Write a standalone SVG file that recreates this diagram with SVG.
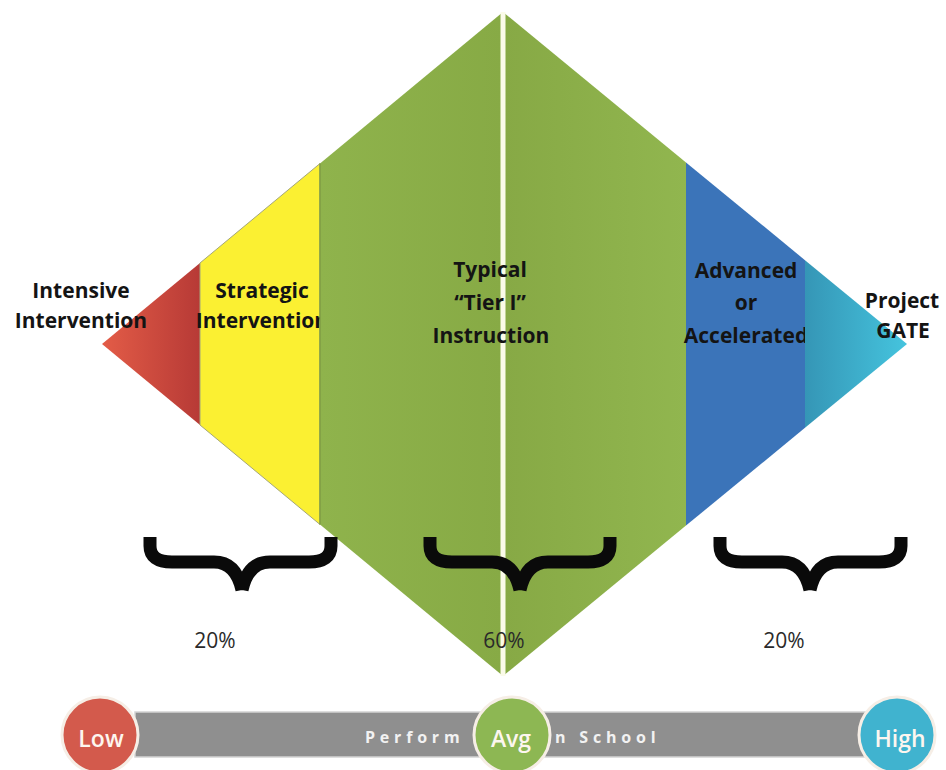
<svg xmlns="http://www.w3.org/2000/svg" width="946" height="770" viewBox="0 0 946 770">
  <style>
    .lbl { font-family: "Open Sans", "Liberation Sans", sans-serif; font-weight: 700; font-size: 21px; fill: #141414; text-anchor: middle; }
    .pct { font-family: "Open Sans", "Liberation Sans", sans-serif; font-weight: 400; font-size: 21px; fill: #2a2a2a; text-anchor: middle; }
    .dot { font-family: "Open Sans", "Liberation Sans", sans-serif; font-weight: 600; font-size: 23px; fill: #fdf6ef; text-anchor: middle; }
    .bar { font-family: "Open Sans", "Liberation Sans", sans-serif; font-weight: 700; font-size: 16px; fill: #f2f2f2; letter-spacing: 4.8px; }
    .brace { fill: none; stroke: #0a0a0a; stroke-width: 13; stroke-linejoin: round; }
    .ring { stroke: #f6eee6; stroke-width: 3; }
  </style>
  <defs>
    <linearGradient id="gRed" x1="102" y1="0" x2="200" y2="0" gradientUnits="userSpaceOnUse">
      <stop offset="0" stop-color="#e35c47"/>
      <stop offset="1" stop-color="#b73a36"/>
    </linearGradient>
    <linearGradient id="gCyan" x1="805" y1="0" x2="907" y2="0" gradientUnits="userSpaceOnUse">
      <stop offset="0" stop-color="#3596b6"/>
      <stop offset="1" stop-color="#45c4de"/>
    </linearGradient>
    <linearGradient id="gGreenL" x1="320" y1="0" x2="503" y2="0" gradientUnits="userSpaceOnUse">
      <stop offset="0" stop-color="#8fb34c"/>
      <stop offset="1" stop-color="#87aa45"/>
    </linearGradient>
    <linearGradient id="gGreenR" x1="503" y1="0" x2="686" y2="0" gradientUnits="userSpaceOnUse">
      <stop offset="0" stop-color="#87a945"/>
      <stop offset="1" stop-color="#91b64f"/>
    </linearGradient>
  </defs>

  <rect width="946" height="770" fill="#ffffff"/>

  <!-- diamond bands, left to right -->
  <g id="intensive">
    <polygon points="102,344 200,263 200,425" fill="url(#gRed)"/>
    <text class="lbl" x="81" y="298">Intensive</text>
    <text class="lbl" x="81" y="328">Intervention</text>
  </g>
  <g id="strategic">
    <polygon points="200,263 320,163.5 320,524.5 200,425" fill="#fbf032" stroke="#a4a67a" stroke-width="1"/>
    <text class="lbl" x="262" y="298">Strategic</text>
    <text class="lbl" x="262" y="328">Intervention</text>
  </g>
  <g id="typical">
    <polygon points="320,163.5 503,12 503,676 320,524.5" fill="url(#gGreenL)"/>
    <polygon points="503,12 686,162.4 686,525.6 503,676" fill="url(#gGreenR)"/>
    <line x1="320" y1="163.5" x2="320" y2="524.5" stroke="#7f9c44" stroke-width="1.5"/>
    <line x1="503" y1="12" x2="503" y2="676" stroke="#fbfbe9" stroke-width="5"/>
    <text class="lbl" x="490" y="277">Typical</text>
    <text class="lbl" x="490" y="310">“Tier I”</text>
    <text class="lbl" x="491" y="343">Instruction</text>
  </g>
  <g id="advanced">
    <polygon points="686,162.4 805,260.2 805,427.8 686,525.6" fill="#3b74b9"/>
    <text class="lbl" x="746" y="278">Advanced</text>
    <text class="lbl" x="746" y="310">or</text>
    <text class="lbl" x="746" y="343">Accelerated</text>
  </g>
  <g id="gate">
    <polygon points="805,260.2 907,344 805,427.8" fill="url(#gCyan)"/>
    <text class="lbl" x="902" y="308">Project</text>
    <text class="lbl" x="903" y="338">GATE</text>
  </g>

  <!-- braces and shares -->
  <g id="share-low">
    <path class="brace" d="M150,537 V546 Q150,562 172,562 H214 Q236,562 242,590 M331,537 V546 Q331,562 309,562 H270 Q248,562 242,590"/>
    <text class="pct" x="215" y="648">20%</text>
  </g>
  <g id="share-mid">
    <path class="brace" d="M430,537 V546 Q430,562 452,562 H492 Q514,562 520,590 M610,537 V546 Q610,562 588,562 H548 Q526,562 520,590"/>
    <text class="pct" x="504" y="648">60%</text>
  </g>
  <g id="share-high">
    <path class="brace" d="M720,537 V546 Q720,562 742,562 H782 Q804,562 810,590 M901,537 V546 Q901,562 879,562 H838 Q816,562 810,590"/>
    <text class="pct" x="784" y="648">20%</text>
  </g>

  <!-- performance scale -->
  <g id="scale">
    <rect x="135" y="712" width="735" height="45" fill="#8f8f8f" stroke="#d3d3d3" stroke-width="1.5"/>
    <text class="bar" x="365" y="743">Perform</text>
    <text class="bar" x="555" y="743">n School</text>
  </g>
  <g id="low">
    <circle class="ring" cx="100" cy="735" r="38" fill="#d35a4c"/>
    <text class="dot" x="101" y="747">Low</text>
  </g>
  <g id="avg">
    <circle class="ring" cx="512" cy="735" r="38" fill="#8db753"/>
    <text class="dot" x="511" y="747">Avg</text>
  </g>
  <g id="high">
    <circle class="ring" cx="897" cy="735" r="38" fill="#40b3cf"/>
    <text class="dot" x="900" y="747">High</text>
  </g>
</svg>
